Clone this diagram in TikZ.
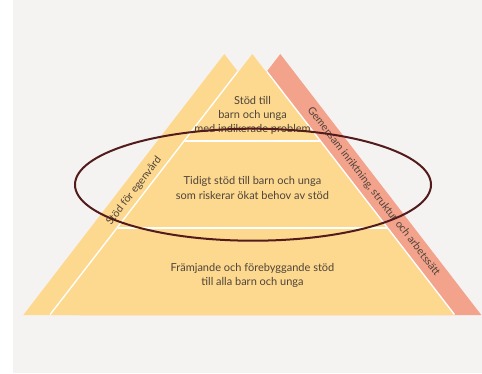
\documentclass[tikz,border=0pt]{standalone}
\usepackage{fontspec}
\setmainfont{Lato}
\usetikzlibrary{shapes.geometric}
\definecolor{bgc}{HTML}{F5F3F2}
\definecolor{pyel}{HTML}{FDD98F}
\definecolor{psal}{HTML}{F3A38C}
\definecolor{ptxt}{HTML}{4E4339}
\definecolor{pell}{HTML}{531C1C}
\tikzset{
  tier/.style={text=ptxt, align=center, font=\fontsize{11}{14.3}\selectfont, inner sep=0pt},
  bandlbl/.style={text=ptxt, font=\fontsize{10.6}{11}\selectfont, inner sep=0pt},
  ring/.style={draw=pell, line width=2pt, ellipse, inner sep=0pt, outer sep=0pt},
}
\begin{document}
\begin{tikzpicture}[x=1pt,y=-1pt]
\useasboundingbox (0,0) rectangle (482,373);
\fill[white] (0,0) rectangle (482,373);
\fill[bgc] (13,0) rectangle (482,373);
% coordinates
\coordinate (mA) at (252.3,54);
\coordinate (mL) at (50.8,315);
\coordinate (mR) at (453.8,315);
\coordinate (lA) at (224.3,54);
\coordinate (lL) at (23.3,315);
\coordinate (lR) at (425.3,315);
\coordinate (sA) at (280.3,54);
\coordinate (sL) at (79.3,315);
\coordinate (sR) at (481.3,315);
% bands
\fill[psal] (sA) -- (sL) -- (sR) -- cycle;
\fill[pyel] (lA) -- (lL) -- (lR) -- cycle;
% white gap
\begin{scope}
  \clip (sA) -- (sL) -- (sR) -- cycle (lA) -- (lL) -- (lR) -- cycle;
  \draw[white, line width=3pt, line join=round] (mL) -- (mA) -- (mR);
\end{scope}
% main triangle
\fill[pyel] (mA) -- (mL) -- (mR) -- cycle;
\begin{scope}
  \clip (mA) -- (mL) -- (mR) -- cycle;
  \draw[white, line width=2pt] (0,140.7) -- (482,140.7);
  \draw[white, line width=2pt] (0,228.3) -- (482,228.3);
\end{scope}
% tier texts
\node[tier] (t1) at (252.5,115.2) {Stöd till\\barn och unga\\med indikerade problem};
\node[tier] (t2) at (252.5,188) {Tidigt stöd till barn och unga\\som riskerar ökat behov av stöd};
\node[tier] (t3) at (252.5,275.5) {Främjande och förebyggande stöd\\till alla barn och unga};
% band labels
\node[bandlbl, rotate=52.3] (lb) at (134,191) {Stöd för egenvård};
\node[bandlbl, rotate=-52.3] (rb) at (373.5,191.5) {Gemensam inriktning, struktur och arbetssätt};
% ellipse
\node[ring, minimum width=356pt, minimum height=112pt] (ell) at (253,184.7) {};
\end{tikzpicture}
\end{document}
